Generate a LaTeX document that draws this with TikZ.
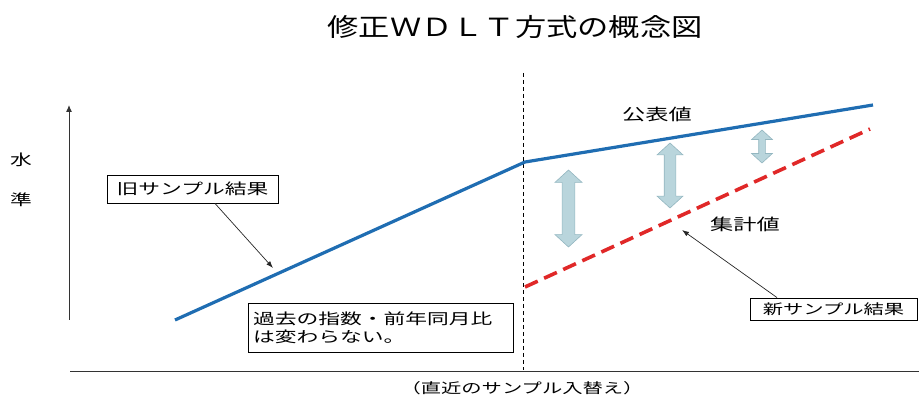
\documentclass[tikz,border=0pt]{standalone}
\usepackage{fontspec}
\usetikzlibrary{arrows.meta,shapes.arrows}
\newfontfamily\jptitle[FakeStretch=1.25]{Noto Sans CJK JP}
\newfontfamily\jptext[FakeStretch=1.45]{Noto Sans CJK JP}
\definecolor{lineblue}{HTML}{1F6DB2}
\definecolor{linered}{HTML}{E02828}
\definecolor{arrfill}{HTML}{B9D5DC}
\definecolor{arredge}{HTML}{93B6C0}
\tikzset{
  lbl/.style={inner sep=0pt, font=\jptext\fontsize{15}{19}\selectfont},
  boxlbl/.style={draw=black, line width=0.9pt, inner sep=0pt, font=\jptext\fontsize{15}{19}\selectfont},
  pointer/.style={draw=black!85, line width=0.7pt, -{Latex[length=7pt,width=5pt]}},
  gap/.style={double arrow, draw=arredge, fill=arrfill, line width=0.6pt, rotate=90, inner sep=0pt, double arrow tip angle=95},
  axis/.style={draw=black!80, line width=1pt},
}
\begin{document}
\begin{tikzpicture}[x=1pt,y=-1pt]
\useasboundingbox (0,0) rectangle (919,398);
% title
\node[inner sep=0pt, font=\jptitle\fontsize{25}{28}\selectfont] (title) at (515,27) {修正ＷＤＬＴ方式の概念図};
% axes
\coordinate (ybot) at (69,320);
\coordinate (ytop) at (69,105);
\draw[axis, -{Latex[length=7pt,width=6pt]}] (ybot) -- (ytop);
\coordinate (xl) at (70,371);
\coordinate (xr) at (919,371);
\draw[axis] (xl) -- (xr);
\node[lbl] (y1) at (21,160) {水};
\node[lbl] (y2) at (21,200) {準};
\node[lbl, font=\jptext\fontsize{14}{17}\selectfont] (xlab) at (522,388) {（直近のサンプル入替え）};
% dashed divider
\coordinate (dtop) at (523,73);
\coordinate (dbot) at (523,370);
\draw[black, line width=0.9pt, dash pattern=on 4pt off 3pt] (dtop) -- (dbot);
% lines
\coordinate (b0) at (175,320);
\coordinate (b1) at (525,162);
\coordinate (b2) at (873,105);
\draw[lineblue, line width=3.2pt, line join=round] (b0) -- (b1) -- (b2);
\coordinate (r0) at (525,287);
\coordinate (r1) at (870,129);
\draw[linered, line width=3.6pt, dash pattern=on 14pt off 7pt] (r0) -- (r1);
% gap arrows
\node[gap, minimum height=77pt, minimum width=27pt, inner ysep=6pt] (g1) at (568.5,208.5) {};
\node[gap, minimum height=65pt, minimum width=24pt, inner ysep=5.5pt] (g2) at (670,175.5) {};
\node[gap, minimum height=33pt, minimum width=13pt, inner ysep=3pt] (g3) at (762,146.5) {};
% labels
\node[lbl, font=\jptext\fontsize{16}{19}\selectfont] (pub) at (657,114) {公表値};
\node[lbl, font=\jptext\fontsize{16}{19}\selectfont] (agg) at (745,224) {集計値};
% boxes
\node[boxlbl, minimum width=171pt, minimum height=28pt] (old) at (192.5,189) {旧サンプル結果};
\node[boxlbl, minimum width=265pt, minimum height=49pt, text width=255pt, align=left, font=\jptext\fontsize{15}{18}\selectfont] (past) at (380.5,327.5) {過去の指数・前年同月比\\は変わらない。};
\node[boxlbl, minimum width=167pt, minimum height=22pt, font=\jptext\fontsize{14}{17}\selectfont] (new) at (833.5,309) {新サンプル結果};
% pointers
\coordinate (oldtip) at (273,268);
\coordinate (newtip) at (682,230);
\draw[pointer] ([xshift=22.5pt]old.south) -- (oldtip);
\draw[pointer] ([xshift=-56.5pt]new.north) -- (newtip);
\end{tikzpicture}
\end{document}
